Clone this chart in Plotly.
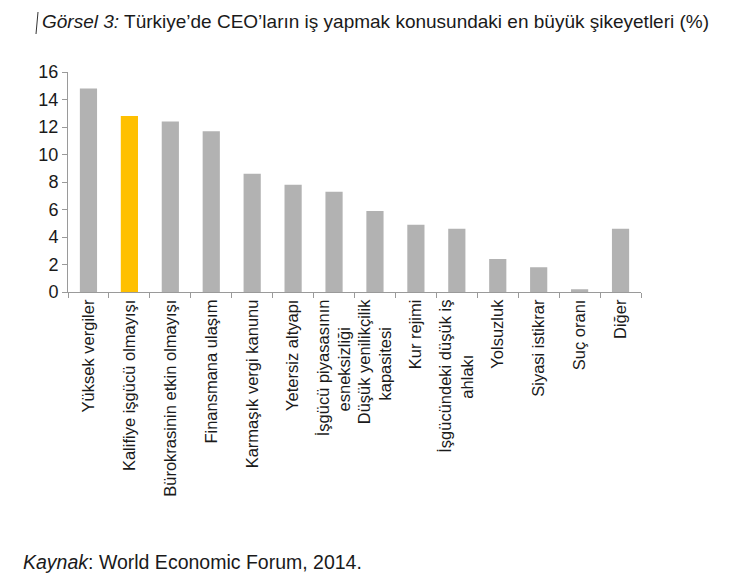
import plotly.graph_objects as go

NB = "\u00a0"
categories = [
    "Yüksek vergiler",
    "Kalifiye işgücü olmayışı",
    "Bürokrasinin etkin olmayışı",
    "Finansmana ulaşım",
    "Karmaşık vergi kanunu",
    "Yetersiz altyapı",
    "İşgücü piyasasının<br>esneksizliği" + NB * 6,
    "Düşük yenilikçilik<br>kapasitesi" + NB * 6,
    "Kur rejimi",
    "İşgücündeki düşük iş<br>ahlakı" + NB * 12,
    "Yolsuzluk",
    "Siyasi istikrar",
    "Suç oranı",
    "Diğer",
]
values = [14.8, 12.8, 12.4, 11.7, 8.6, 7.8, 7.3, 5.9, 4.9, 4.6, 2.4, 1.8, 0.2, 4.6]
highlight = "Kalifiye işgücü olmayışı"
y_ticks = [0, 2, 4, 6, 8, 10, 12, 14, 16]

GREY = "#b2b2b2"
YELLOW = "#ffc000"
colors = [YELLOW if c == highlight else GREY for c in categories]
FONT = "Liberation Sans, Arial, sans-serif"
TXT = "#1a1a1a"

W, H = 740, 586
l, r, t, b = 68, 99, 72, 294
pw, ph = W - l - r, H - t - b

def px_to_paper(x, y):
    return (x - l) / pw, (H - b - y) / ph

fig = go.Figure(go.Bar(x=categories, y=values,
                       marker=dict(color=colors, line=dict(width=0)), width=0.42))

fig.update_layout(
    width=W, height=H,
    margin=dict(l=l, r=r, t=t, b=b),
    paper_bgcolor="white", plot_bgcolor="white",
    font=dict(family=FONT, color=TXT),
    showlegend=False,
    xaxis=dict(
        range=[-0.5, len(categories) - 0.5],
        tickangle=-90, tickfont=dict(size=16.5, family=FONT, color=TXT),
        showline=True, linecolor="#9a9a9a", linewidth=1,
        ticks="outside", tickson="boundaries", ticklen=5, tickcolor="#9a9a9a",
        showgrid=False, zeroline=False,
    ),
    yaxis=dict(
        range=[0, 16], tickvals=y_ticks,
        tickfont=dict(size=18, family=FONT, color=TXT),
        showline=True, linecolor="#9a9a9a", linewidth=1,
        ticks="outside", ticklen=5, tickcolor="#9a9a9a",
        showgrid=False, zeroline=False,
    ),
)

tx, ty = px_to_paper(40, 22)
fx, fy = px_to_paper(21, 562)
fig.add_annotation(text="<i>Görsel 3:</i> Türkiye’de CEO’ların iş yapmak konusundaki en büyük şikeyetleri (%)",
                   x=tx, y=ty, xref="paper", yref="paper", xanchor="left", yanchor="middle",
                   showarrow=False, font=dict(size=19, family=FONT, color=TXT))
fig.add_annotation(text="<i>Kaynak</i>: World Economic Forum, 2014.",
                   x=fx, y=fy, xref="paper", yref="paper", xanchor="left", yanchor="middle",
                   showarrow=False, font=dict(size=19.5, family=FONT, color=TXT))
cx0, cy0 = px_to_paper(38, 12)
cx1, cy1 = px_to_paper(36, 34)
fig.add_shape(type="line", xref="paper", yref="paper", x0=cx0, y0=cy0, x1=cx1, y1=cy1,
              line=dict(color="#333333", width=1))

fig.write_html("out.html")
